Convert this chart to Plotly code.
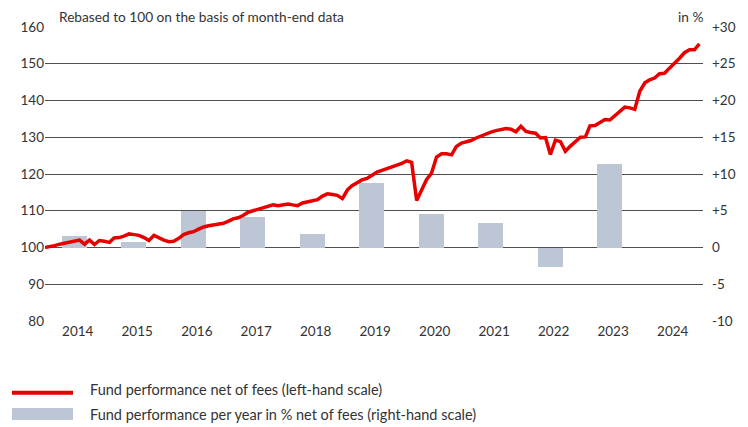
import pandas as pd
import plotly.graph_objects as go

# ---- data ----
fund_index = [
    100.0, 100.2, 100.5, 100.9, 101.2, 101.5, 101.8, 102.0, 100.9, 102.0,
    100.8, 101.9, 101.7, 101.4, 102.6, 102.7, 103.1, 103.7, 103.5, 103.3,
    102.7, 101.9, 103.3, 102.6, 102.0, 101.6, 101.7, 102.5, 103.5, 104.0,
    104.3, 105.0, 105.6, 105.9, 106.1, 106.2, 106.6, 107.2, 107.8, 108.1,
    108.7, 109.6, 110.0, 110.3, 110.7, 111.1, 111.6, 111.4, 111.6, 111.8,
    111.6, 111.4, 112.1, 112.4, 112.7, 113.0, 114.0, 114.6, 114.4, 114.2,
    113.3, 115.7, 116.8, 117.7, 118.4, 118.8, 119.6, 120.5, 121.0, 121.5,
    122.0, 122.3, 122.9, 123.6, 123.2, 112.8, 115.4, 118.5, 120.2, 124.6,
    125.5, 125.5, 125.2, 127.5, 128.4, 128.8, 129.1, 129.8, 130.4, 130.8,
    131.4, 131.8, 132.2, 132.4, 132.2, 131.5, 133.0, 131.6, 131.3, 131.1,
    129.8, 129.9, 125.3, 129.2, 128.8, 126.2, 127.6, 128.9, 130.0, 130.1,
    133.1, 133.2, 134.1, 134.8, 134.7, 135.8, 137.2, 138.2, 138.0, 137.6,
    142.5, 144.8, 145.6, 146.1, 147.3, 147.4, 148.8, 150.0, 151.5, 153.0,
    153.8, 153.8, 155.4,
]
month_ends = pd.date_range("2013-12-31", periods=len(fund_index), freq="ME")

bar_years = [2014, 2015, 2016, 2017, 2018, 2019, 2020, 2021, 2022, 2023]
bar_values = [1.5, 0.7, 5.0, 4.2, 1.8, 8.8, 4.5, 3.4, -2.7, 11.3]

year_labels = [str(y) for y in range(2014, 2025)]
left_ticks = [80, 90, 100, 110, 120, 130, 140, 150, 160]
right_ticks = [-10, -5, 0, 5, 10, 15, 20, 25, 30]
right_ticktext = ["-10", "-5", "0", "+5", "+10", "+15", "+20", "+25", "+30"]

RED = "#e60000"
BAR = "#bcc6d4"
GRID = "#505050"
TXT = "#333333"
FONT = "Lato"

fig = go.Figure()

fig.add_trace(go.Bar(
    x=[f"{y}-06-28" for y in bar_years], y=bar_values,
    width=153.6 * 86400000, marker=dict(color=BAR, line=dict(width=0)),
    yaxis="y", showlegend=False, hoverinfo="skip",
))
fig.add_trace(go.Scatter(
    x=month_ends, y=fund_index, mode="lines",
    line=dict(color=RED, width=3.5), yaxis="y2", showlegend=False,
))

# page body has an 8px default margin: figure is shrunk and offset accordingly
fig.update_layout(
    width=740, height=419,
    margin=dict(l=37, r=45, t=19, b=106),
    paper_bgcolor="white", plot_bgcolor="white",
    font=dict(family=FONT, size=13, color=TXT),
    xaxis=dict(
        type="date", range=["2013-12-31", "2025-01-22"],
        tickvals=[f"{y}-07-20" for y in year_labels], ticktext=year_labels,
        showgrid=False, zeroline=False, showline=False, ticks="",
        tickfont=dict(size=13.5, color=TXT),
    ),
    yaxis=dict(
        side="right", range=[-10, 30], tickvals=right_ticks, ticktext=right_ticktext,
        showgrid=True, gridcolor=GRID, gridwidth=1.3, zeroline=False,
        ticks="", tickfont=dict(size=13.5, color=TXT), ticklabelstandoff=8,
    ),
    yaxis2=dict(
        side="left", overlaying="y", range=[80, 160], tickvals=left_ticks,
        showgrid=False, zeroline=False, ticks="", tickfont=dict(size=13.5, color=TXT),
    ),
    bargap=0,
)

# custom legend / header (page pixel -> paper coordinates)
W = 658.0
H = 294.0
def px(xp):
    return (xp - 45) / W
def py(yp):
    return (321 - yp) / H

fig.add_annotation(text="Rebased to 100 on the basis of month-end data", xref="paper", yref="paper",
                   x=px(57), y=py(16.5), xanchor="left", yanchor="middle", showarrow=False,
                   font=dict(size=13.7, color=TXT))
fig.add_annotation(text="in %", xref="paper", yref="paper",
                   x=px(705), y=py(16.5), xanchor="right", yanchor="middle", showarrow=False,
                   font=dict(size=13.7, color=TXT))

fig.add_shape(type="line", xref="paper", yref="paper", x0=px(12), x1=px(73), y0=py(392.7), y1=py(392.7),
              line=dict(color=RED, width=4))
fig.add_shape(type="rect", xref="paper", yref="paper", x0=px(12), x1=px(73), y0=py(420), y1=py(408),
              fillcolor=BAR, line=dict(width=0))
fig.add_annotation(text="Fund performance net of fees (left-hand scale)", xref="paper", yref="paper",
                   x=px(88), y=py(389), xanchor="left", yanchor="middle", showarrow=False,
                   font=dict(size=14.5, color=TXT))
fig.add_annotation(text="Fund performance per year in % net of fees (right-hand scale)", xref="paper", yref="paper",
                   x=px(88), y=py(414), xanchor="left", yanchor="middle", showarrow=False,
                   font=dict(size=14.5, color=TXT))

fig.write_html("out.html")
